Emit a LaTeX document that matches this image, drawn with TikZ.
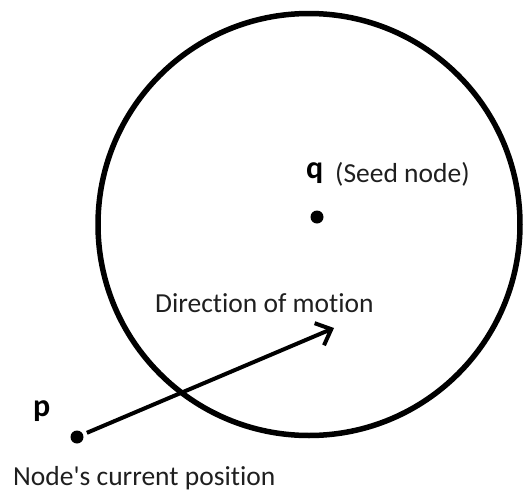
\documentclass[tikz,border=0pt]{standalone}
\usepackage{fontspec}
\setmainfont[RawFeature=-liga]{Carlito}
\usetikzlibrary{arrows.meta}
\begin{document}
\begin{tikzpicture}[x=1pt,y=-1pt,
  txt/.style={anchor=base west,inner sep=0pt,text=black!88,font=\fontsize{27.5}{33}\selectfont},
  lbl/.style={anchor=base west,inner sep=0pt,text=black,font=\fontsize{32}{38}\selectfont\bfseries},
  dot/.style={circle,fill=black,inner sep=0pt,minimum size=13pt}]
\useasboundingbox (0,0) rectangle (523,493);
\node[circle,draw=black,line width=5.5pt,minimum size=422pt,inner sep=0pt] (region) at (309,224.5) {};
\node[dot] (q) at (317,217) {};
\node[dot] (p) at (77,437) {};
\coordinate (tip) at (334,328);
\draw[line width=4pt,shorten <=4pt,-{Straight Barb[length=13pt,width=24pt,line width=4pt]}] (p) -- (tip);
\node[lbl] (qlabel) at (306,178) {q};
\node[txt] (seed) at (335,182) {(Seed node)};
\node[txt] (dir) at (155,312) {Direction of motion};
\node[lbl] (plabel) at (33,416) {p};
\node[txt] (cur) at (13,485) {Node\textquotesingle s current position};
\end{tikzpicture}
\end{document}
